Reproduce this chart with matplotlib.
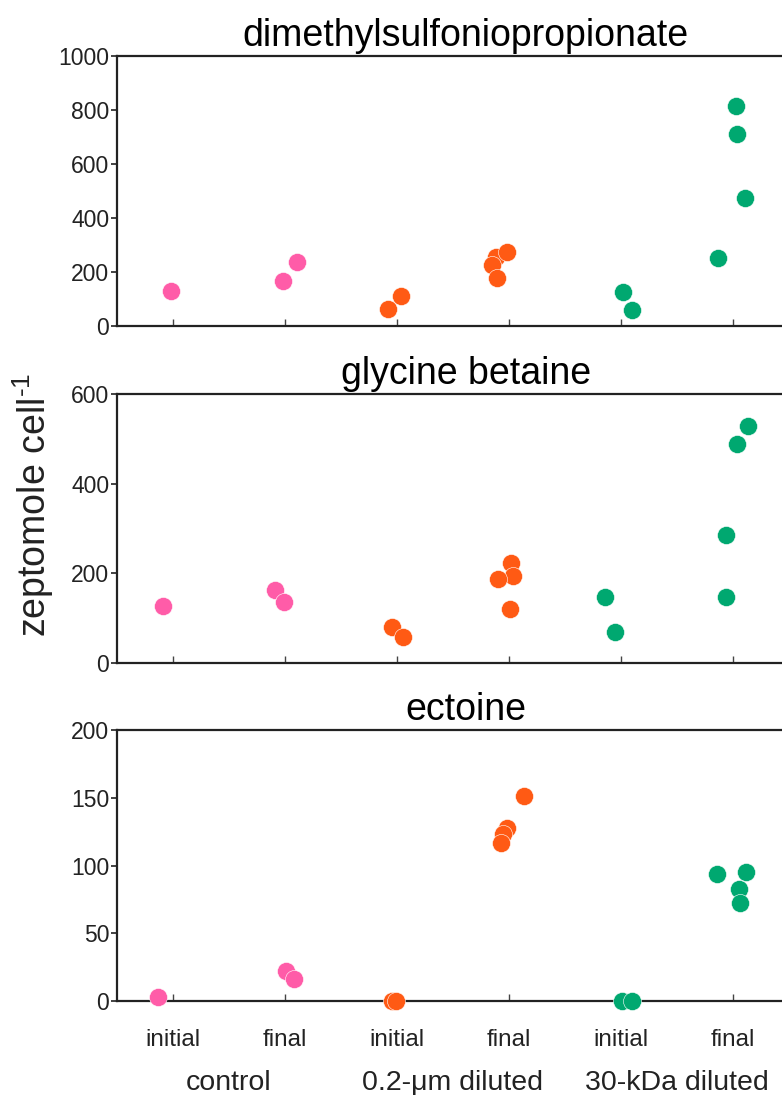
import matplotlib.pyplot as plt
from matplotlib.transforms import blended_transform_factory

plt.rcParams['font.family'] = ['Liberation Sans', 'DejaVu Sans']
plt.rcParams['mathtext.fontset'] = 'custom'
plt.rcParams['mathtext.rm'] = 'Liberation Sans'

tick_labels = ['initial', 'final', 'initial', 'final', 'initial', 'final']
group_labels = ['control', '0.2-\u03bcm diluted', '30-kDa diluted']
group_colors = ['#ff5ca8', '#ff5ca8', '#ff5a14', '#ff5a14', '#00a870', '#00a870']

# dimethylsulfoniopropionate
dmsp_values = [[128], [167, 237], [64, 111], [256, 226, 178, 274], [126, 59], [815, 711, 474, 252]]
dmsp_offsets = [[-0.02], [-0.02, 0.11], [-0.08, 0.04], [-0.12, -0.15, -0.11, -0.02], [0.02, 0.10], [0.03, 0.04, 0.11, -0.13]]

# glycine betaine
gb_values = [[127], [163, 136], [80, 58], [223, 194, 187, 120], [147, 69], [529, 489, 285, 147]]
gb_offsets = [[-0.09], [-0.09, -0.01], [-0.04, 0.05], [0.02, 0.04, -0.10, 0.01], [-0.14, -0.05], [0.13, 0.04, -0.06, -0.06]]

# ectoine
ect_values = [[3], [22, 16.5], [0, 0], [151, 128, 123, 117], [0, 0], [94, 95, 83, 72]]
ect_offsets = [[-0.13], [0.01, 0.08], [-0.04, -0.01], [0.13, -0.02, -0.05, -0.07], [0.01, 0.10], [-0.14, 0.12, 0.05, 0.06]]

panels = [
    ('dimethylsulfoniopropionate', dmsp_values, dmsp_offsets, 1000, [0, 200, 400, 600, 800, 1000]),
    ('glycine betaine', gb_values, gb_offsets, 600, [0, 200, 400, 600]),
    ('ectoine', ect_values, ect_offsets, 200, [0, 50, 100, 150, 200]),
]

fig = plt.figure(figsize=(7.82, 10.95), dpi=100)
boxes = [0.7023, 0.3945, 0.0858]
heights = [0.2466, 0.2457, 0.2475]

for (title, values, offsets, ymax, yticks), b, h in zip(panels, boxes, heights):
    ax = fig.add_axes([0.1496, b, 0.8593, h])
    for i in range(6):
        xs = [i + 1 + o for o in offsets[i]]
        ax.plot(xs, values[i], 'o', color=group_colors[i], markersize=13,
                markeredgecolor='white', markeredgewidth=0.4,
                clip_on=False, zorder=3)
    ax.set_xlim(0.5, 6.5)
    ax.set_ylim(0, ymax)
    ax.set_yticks(yticks)
    ax.set_xticks(range(1, 7))
    ax.set_title(title, fontsize=27, x=0.519, pad=7)
    for s in ['left', 'top', 'bottom']:
        ax.spines[s].set_linewidth(1.6)
        ax.spines[s].set_color('#222222')
    ax.spines['right'].set_visible(False)
    ax.tick_params(axis='y', direction='out', length=4, width=1.2,
                   labelsize=16.5, colors='#222222', pad=1.5)
    ax.tick_params(axis='x', direction='in', length=5, width=1.0, colors='#444444')
    if title == 'ectoine':
        ax.set_xticklabels(tick_labels, fontsize=17.5, color='#222222')
        ax.tick_params(axis='x', pad=20, labelcolor='#222222')
        trans = blended_transform_factory(ax.transData, ax.transAxes)
        for k, g in enumerate(group_labels):
            ax.text(2 * k + 1.5, -0.328, g, transform=trans, ha='center',
                    va='baseline', fontsize=20.5, color='#222222')
    else:
        ax.set_xticklabels([])

fig.text(33 / 782, 1 - 505 / 1095, 'zeptomole cell$^{\\text{-1}}$', rotation=90,
         ha='center', va='center', fontsize=27, color='#222222')

fig.savefig('out.png', dpi=100)
